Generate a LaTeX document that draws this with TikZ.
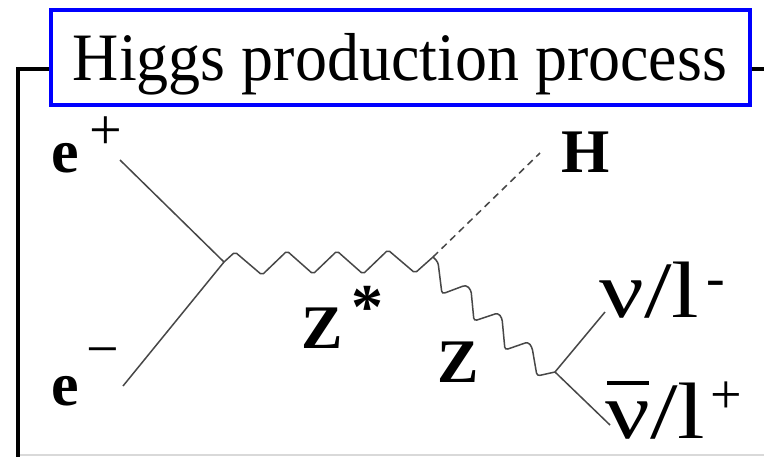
\documentclass[tikz,border=0pt]{standalone}
\usepackage{fontspec}
\setmainfont{Liberation Serif}
\begin{document}
\begin{tikzpicture}[x=1pt,y=-1pt,
  frameline/.style={line width=4.5pt, black},
  titlebox/.style={draw=blue, line width=3.8pt, inner sep=0pt, minimum width=699pt, minimum height=95pt},
  titletext/.style={font=\fontsize{64}{64}\selectfont, inner sep=0pt, anchor=base, yscale=1.06},
  prop/.style={draw=black!72, line width=1.5pt},
  higgsline/.style={prop, dash pattern=on 7pt off 5pt},
  boldlbl/.style={font=\fontsize{62}{62}\selectfont\bfseries, inner sep=0pt, anchor=base west},
  suplbl/.style={font=\fontsize{58}{58}\selectfont, inner sep=0pt},
  outlbl/.style={font=\fontsize{80}{80}\selectfont, inner sep=0pt, anchor=base west, xscale=1.24},
  outsup/.style={font=\fontsize{56}{56}\selectfont, inner sep=0pt, anchor=base}
]
\useasboundingbox (0,0) rectangle (764,456);
\fill[white] (0,0) rectangle (764,456);

% bottom faint line
\draw[black!15, line width=1.2pt] (20,455) -- (764,455);

% title box
\node[titlebox] (title) at (400.5,57.5) {};
\node[titletext] (titletxt) at (400,80) {Higgs production process};

% frame
\coordinate (fl) at (18,69);
\coordinate (fb) at (18,460);
\coordinate (fr) at (768,69);
\draw[frameline] (title.west |- fl) -- (fl) -- (fb);
\draw[frameline] (title.east |- fl) -- (fr);

% vertices and ends
\coordinate (v1) at (224,262);
\coordinate (v2) at (433,257);
\coordinate (v3) at (555,372);
\coordinate (ep) at (120,160);
\coordinate (em) at (123,386);
\coordinate (h) at (540,153);
\coordinate (nu) at (605,312);
\coordinate (nub) at (610,425);

% fermion lines
\draw[prop] (ep) -- (v1);
\draw[prop] (em) -- (v1);
\draw[prop] (v3) -- (nu);
\draw[prop] (v3) -- (nub);

% Higgs
\draw[higgsline] (v2) -- (h);

% Z* propagator
\draw[prop, rounded corners=2pt] (v1) -- (235,252) -- (262,275) -- (287,251) -- (313,274)
  -- (337,251) -- (363,274) -- (388,250) -- (415,273) -- (v2);

% Z propagator
\draw[prop, rounded corners=3pt] (v2) -- (438,262) -- (442,294) -- (466,285) -- (471,290)
  -- (474,321) -- (498,313) -- (502,318) -- (505,350) -- (528,342) -- (532,347)
  -- (537,376) -- (v3);

% labels
\node[boldlbl] (lep) at (51,172) {e};
\node[suplbl] (lepsup) at (106,133) {+};
\node[boldlbl] (lem) at (51,405) {e};
\node[suplbl] (lemsup) at (103,358) {\char"2212};
\node[boldlbl] (lh) at (561,172) {H};
\node[boldlbl] (lzs) at (301,348) {Z};
\node[font=\fontsize{64}{64}\selectfont\bfseries, inner sep=0pt, anchor=base] (lzsstar) at (367,328) {*};
\node[boldlbl] (lz) at (437,382) {Z};
\node[outlbl] (lnu) at (599,317) {ν/l};
\node[outsup] (lnusup) at (716,296) {-};
\node[outlbl] (lnub) at (605,438) {ν/l};
\draw[line width=3.8pt] (607,383) -- (649,383);
\node[outsup, anchor=center] (lnubsup) at (726,398) {+};
\end{tikzpicture}
\end{document}
